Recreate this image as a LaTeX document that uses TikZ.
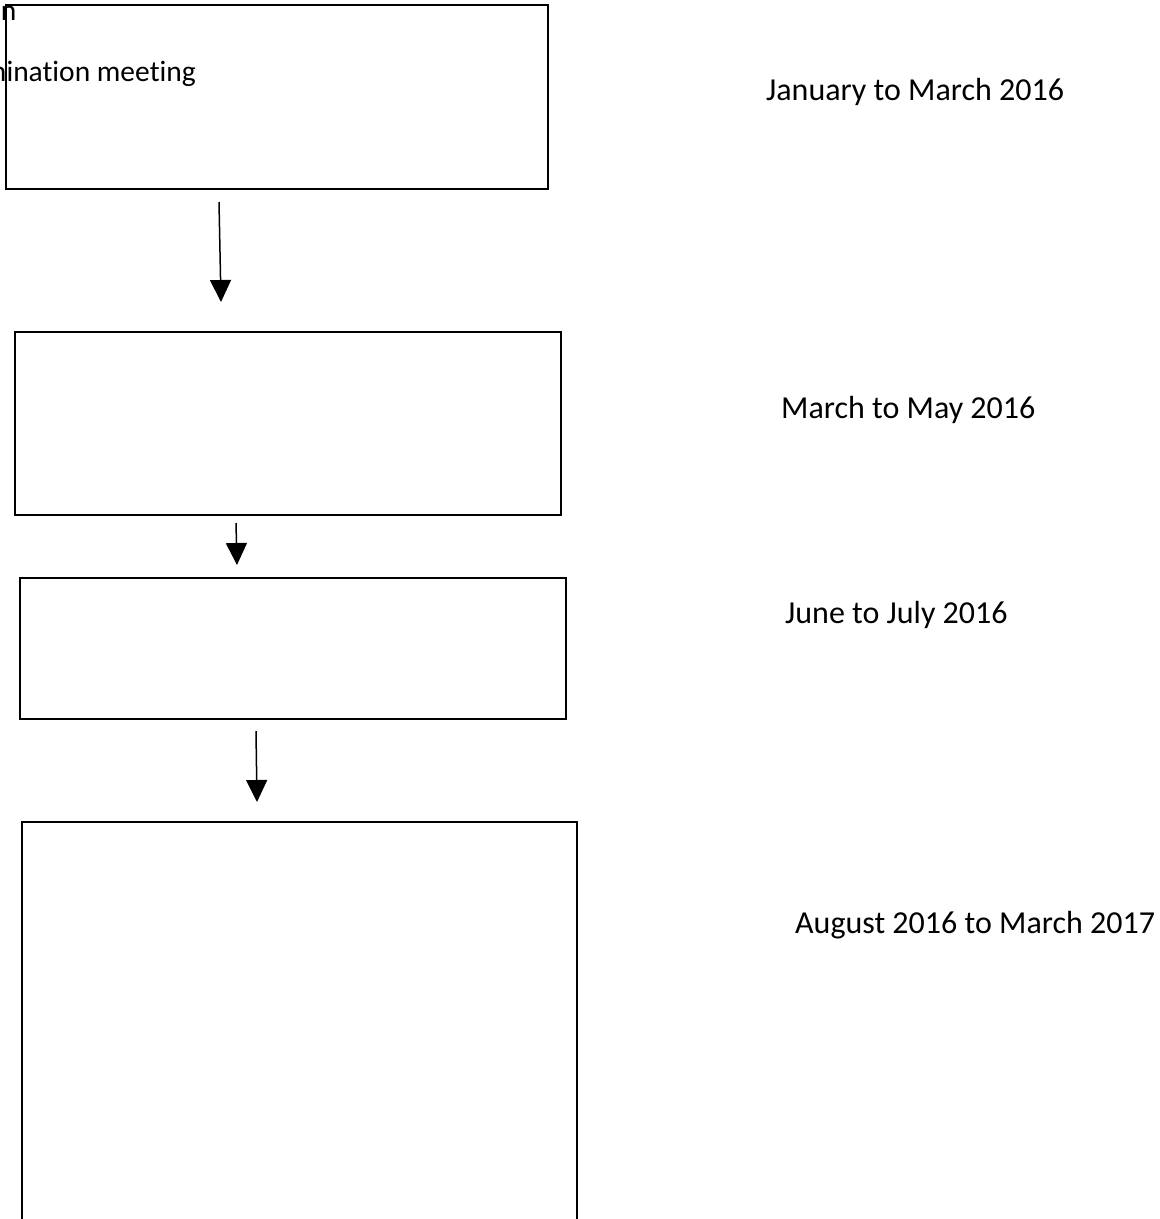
\documentclass[tikz,border=0pt]{standalone}
\usepackage{fontspec}
\setmainfont{Carlito}[Ligatures={NoCommon}]
\usetikzlibrary{arrows.meta}
\tikzset{
  stagebox/.style={draw=black, line width=1.5pt, inner sep=0pt, fill=none},
  flowarrow/.style={line width=1.5pt, -{Triangle[width=21pt,length=22pt]}},
  datelabel/.style={anchor=base west, inner sep=0pt, font=\fontsize{32}{38}\selectfont},
  cuttext/.style={anchor=base east, inner sep=0pt, font=\fontsize{29.5}{35}\selectfont},
}
\begin{document}
\begin{tikzpicture}[x=1pt,y=-1pt]
\useasboundingbox (0,0) rectangle (1160,1219);
\clip (0,0) rectangle (1160,1219);
\fill[white] (0,0) rectangle (1160,1219);
% boxes
\node[stagebox, minimum width=542pt, minimum height=184pt] (b1) at (277,97) {};
\node[stagebox, minimum width=546pt, minimum height=183pt] (b2) at (288,423.5) {};
\node[stagebox, minimum width=546pt, minimum height=141pt] (b3) at (293,648.5) {};
\node[stagebox, minimum width=555pt, minimum height=500pt] (b4) at (299.5,1072) {};
% clipped texts at top left
\node[cuttext] (t0) at (16.5,20) {n};
\node[cuttext] (t1) at (196,81) {mination meeting};
% arrows
\coordinate (a1s) at (219,202); \coordinate (a1e) at (221,302);
\coordinate (a2s) at (236,523); \coordinate (a2e) at (237,565);
\coordinate (a3s) at (256,731); \coordinate (a3e) at (257,802);
\draw[flowarrow] (a1s) -- (a1e);
\draw[flowarrow] (a2s) -- (a2e);
\draw[flowarrow] (a3s) -- (a3e);
% date labels
\node[datelabel] (d1) at (766,100) {January to March 2016};
\node[datelabel] (d2) at (781,418) {March to May 2016};
\node[datelabel] (d3) at (785,623) {June to July 2016};
\node[datelabel] (d4) at (795,933) {August 2016 to March 2017};
\end{tikzpicture}
\end{document}
